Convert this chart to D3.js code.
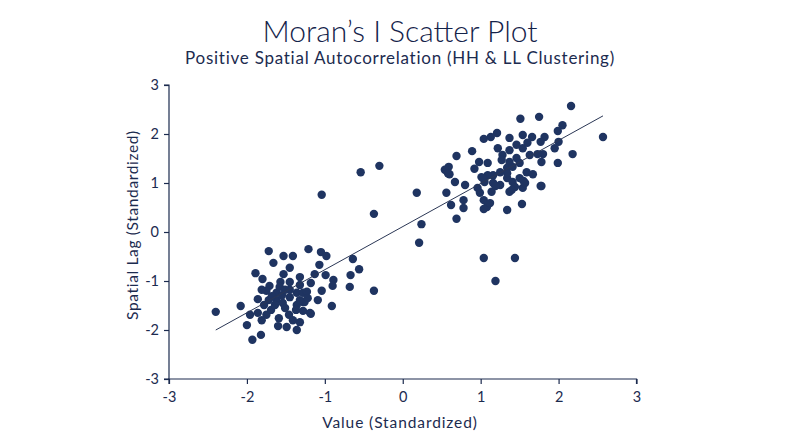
<!DOCTYPE html>
<html><head><meta charset="utf-8">
<script src="https://cdn.jsdelivr.net/npm/d3@7"></script>
<style>body{margin:0;background:#fff}svg{display:block}text{font-family:"Lato","Open Sans",sans-serif;fill:#1c2b4f}</style>
</head><body>
<svg id="chart" width="800" height="447"></svg>
<script>
const titleText = "Moran\u2019s I Scatter Plot";
const subtitleText = "Positive Spatial Autocorrelation (HH & LL Clustering)";
const xLabel = "Value (Standardized)";
const yLabel = "Spatial Lag (Standardized)";
const xTicks = [-3,-2,-1,0,1,2,3];
const yTicks = [-3,-2,-1,0,1,2,3];
const trendX = [-2.40, 2.57];
const trendY = [-2.00, 2.37];

const llX = [-2.40,-1.72,-1.53,-1.41,-1.21,-1.05,-0.98,-1.66,-1.45,-1.07,-0.64,-1.89,-1.80,-1.53,-1.32,-1.13,-0.99,-0.89,-0.90,-0.67,-0.56,-0.68,-0.37,-1.04,-1.18,-1.57,-1.71,-1.75,-1.86,-2.08,-1.96,-2.00,-1.93,-1.82,-1.86,-1.75,-1.69,-1.59,-1.49,-1.36,-1.32,-1.46,-1.28,-1.18,-0.91,-1.72,-1.62,-1.54,-1.45,-1.36,-1.28,-1.28,-1.36,-1.45,-1.62,-1.68,-1.58,-1.45,-1.32,-1.23,-1.19,-1.26,-1.37,-1.51,-1.64,-1.41,-1.78,-1.32,-1.22,-1.55,-1.81,-1.60,-1.51,-1.81,-1.09];
const llY = [-1.63,-0.39,-0.49,-0.49,-0.35,-0.41,-0.49,-0.63,-0.73,-0.67,-0.55,-0.84,-0.96,-0.86,-0.92,-0.86,-0.88,-0.98,-1.10,-0.88,-0.76,-1.12,-1.20,-1.20,-1.04,-1.02,-1.10,-1.20,-1.37,-1.51,-1.69,-1.90,-2.20,-2.10,-1.65,-1.69,-1.59,-1.76,-1.94,-2.00,-1.84,-1.69,-1.61,-1.67,-1.51,-1.39,-1.39,-1.45,-1.33,-1.24,-1.24,-1.43,-1.49,-1.18,-1.24,-1.31,-1.12,-1.02,-1.08,-1.22,-1.65,-1.43,-1.59,-1.55,-1.49,-1.80,-1.49,-1.39,-1.35,-1.29,-1.80,-1.92,-1.18,-1.18,-1.39];

const midX = [-1.04,-0.54,-0.30,-0.37,0.18,0.24,0.21];
const midY = [0.76,1.22,1.35,0.37,0.80,0.16,-0.22];

const hhX = [2.16,2.57,1.75,1.51,2.05,1.99,1.21,1.04,1.13,1.37,1.54,1.66,1.82,1.77,2.00,1.95,2.18,1.99,0.89,0.69,0.59,0.54,0.60,0.67,0.80,0.56,0.62,0.78,0.78,0.69,1.04,1.08,1.34,1.53,1.78,1.54,1.37,0.96,1.14,0.92,0.98,1.09,1.16,1.25,1.34,1.41,1.50,1.59,1.67,1.78,1.80,1.73,1.63,1.54,1.60,1.46,1.37,1.28,1.22,1.27,1.37,1.46,1.34,1.41,1.50,1.09,1.01,1.05,1.16,1.25,1.44,1.57,1.34,0.99,1.12,1.04,1.19,1.40,1.55,1.77,0.58,1.03,1.04,1.44,1.19];
const hhY = [2.57,1.94,2.35,2.31,2.18,2.06,2.02,1.90,1.94,1.92,1.98,1.94,1.94,1.84,1.84,1.71,1.59,1.41,1.65,1.55,1.33,1.27,1.18,1.02,0.96,0.80,0.55,0.65,0.49,0.27,0.65,0.51,0.45,0.57,0.94,0.90,0.82,0.90,0.82,1.29,1.43,1.41,1.16,1.22,1.10,1.02,1.10,1.22,1.18,1.43,1.59,1.59,1.57,1.71,1.82,1.78,1.67,1.57,1.71,1.47,1.43,1.51,1.31,1.33,1.41,1.16,1.12,1.02,1.00,0.96,0.92,1.00,1.20,0.80,0.59,0.47,0.94,0.86,1.04,0.94,1.20,1.10,-0.53,-0.53,-1.00];

const allX = llX.concat(midX, hhX);
const allY = llY.concat(midY, hhY);
const points = allX.map((x,i)=>({x, y: allY[i]}));

const navy = "#1f3461";
const axisColor = "#1c2b4f";
const svg = d3.select("#chart");
const x = d3.scaleLinear().domain([-3,3]).range([169,636.5]);
const y = d3.scaleLinear().domain([-3,3]).range([379,85]);

svg.append("text").attr("x",400).attr("y",42).attr("text-anchor","middle")
  .attr("font-size",30).style("font-weight",300).style("fill","#14234a").text(titleText);
svg.append("text").attr("x",400).attr("y",64).attr("text-anchor","middle")
  .attr("font-size",17).attr("letter-spacing",0.75).text(subtitleText);

const fmt = d => String(d);
const xa = svg.append("g").attr("transform","translate(0,379)")
  .call(d3.axisBottom(x).tickValues(xTicks).tickSize(5).tickPadding(8).tickFormat(fmt));
const ya = svg.append("g").attr("transform","translate(169,0)")
  .call(d3.axisLeft(y).tickValues(yTicks).tickSize(5).tickPadding(5).tickFormat(fmt));
[xa,ya].forEach(g=>{
  g.selectAll("path,line").attr("stroke",axisColor).attr("stroke-width",1.2);
  g.selectAll("text").attr("font-size",14.5).attr("fill",axisColor).style("font-family","Lato, sans-serif");
});
ya.select(".domain").attr("d","M-5,85H0V379H-5");
xa.select(".domain").attr("d","M169,5V0H636.5V5");

svg.append("text").attr("x",400).attr("y",428).attr("text-anchor","middle")
  .attr("font-size",15.5).attr("letter-spacing",0.9).text(xLabel);
svg.append("text").attr("transform","translate(138,225) rotate(-90)").attr("text-anchor","middle")
  .attr("font-size",15.5).attr("letter-spacing",0.65).text(yLabel);

svg.append("g").selectAll("circle").data(points).join("circle")
  .attr("cx",d=>x(d.x)).attr("cy",d=>y(d.y)).attr("r",4.2).attr("fill",navy);

svg.append("line").attr("x1",x(trendX[0])).attr("y1",y(trendY[0]))
  .attr("x2",x(trendX[1])).attr("y2",y(trendY[1]))
  .attr("stroke","#2b3755").attr("stroke-width",1);
</script>
</body></html>
